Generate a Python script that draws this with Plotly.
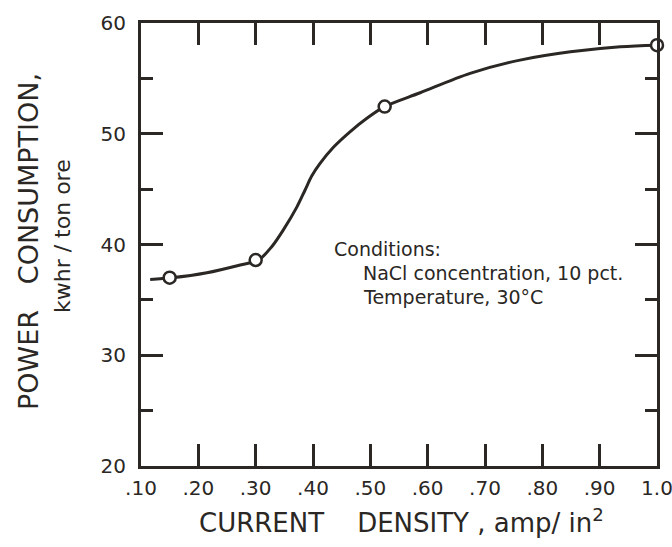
import plotly.graph_objects as go

# Measured data points
x_pts = [0.15, 0.30, 0.525, 1.0]
y_pts = [37.0, 38.6, 52.45, 58.0]

# Smooth curve
x_curve = [0.116, 0.154, 0.215, 0.273, 0.305, 0.328, 0.348, 0.372, 0.386, 0.398, 0.412, 0.436, 0.465, 0.494, 0.525, 0.587, 0.674, 0.761, 0.849, 0.936, 1.0]
y_curve = [36.85, 37.0, 37.45, 38.15, 38.6, 39.8, 41.3, 43.4, 44.9, 46.2, 47.3, 48.8, 50.2, 51.4, 52.45, 53.7, 55.45, 56.65, 57.4, 57.86, 58.0]

x_tickvals = [0.1, 0.2, 0.3, 0.4, 0.5, 0.6, 0.7, 0.8, 0.9, 1.0]
x_ticktext = [".10", ".20", ".30", ".40", ".50", ".60", ".70", ".80", ".90", "1.0"]
y_tickvals = [20, 30, 40, 50, 60]
y_ticktext = ["20", "30", "40", "50", "60"]

ink = "#2a2724"
font = "DejaVu Sans"

fig = go.Figure()
fig.add_trace(go.Scatter(x=x_curve, y=y_curve, mode="lines",
                         line=dict(color=ink, width=3, shape="spline", smoothing=0.9),
                         hoverinfo="skip", cliponaxis=False))
fig.add_trace(go.Scatter(x=x_pts, y=y_pts, mode="markers",
                         marker=dict(symbol="circle", size=12, color="white",
                                     line=dict(color=ink, width=2.5)),
                         cliponaxis=False))

fig.update_layout(
    width=672, height=547,
    margin=dict(l=141, r=15, t=23, b=81, autoexpand=False),
    paper_bgcolor="white", plot_bgcolor="white",
    showlegend=False,
    font=dict(family=font, color=ink),
)
fig.update_xaxes(range=[0.1, 1.0], tickvals=x_tickvals, ticktext=x_ticktext,
                 showgrid=False, zeroline=False, automargin=False,
                 showline=True, linecolor=ink, linewidth=3, mirror="allticks",
                 ticks="inside", ticklen=22, tickwidth=2.5, tickcolor=ink,
                 ticklabeloverflow="allow",
                 tickfont=dict(size=20, family=font, color=ink), ticklabelstandoff=2)
fig.update_yaxes(range=[20, 60], tickvals=y_tickvals, ticktext=y_ticktext,
                 showgrid=False, zeroline=False, automargin=False,
                 showline=True, linecolor=ink, linewidth=3, mirror="allticks",
                 ticks="inside", ticklen=22, tickwidth=2.5, tickcolor=ink,
                 minor=dict(dtick=5, tick0=20, ticks="inside", ticklen=12, tickwidth=2.5,
                            tickcolor=ink, showgrid=False),
                 tickfont=dict(size=20, family=font, color=ink), ticklabelstandoff=8)

fig.add_annotation(xref="paper", yref="paper", x=(401 - 141) / 516, y=(547 - 521 - 81) / 443,
                   text="CURRENT    DENSITY , amp/ in<sup>2</sup>", showarrow=False,
                   font=dict(size=26, family=font, color=ink), xanchor="center", yanchor="middle")
fig.add_annotation(xref="paper", yref="paper", x=(28 - 141) / 516, y=(547 - 242 - 81) / 443,
                   text="POWER   CONSUMPTION,", textangle=-90, showarrow=False,
                   font=dict(size=27, family=font, color=ink), xanchor="center", yanchor="middle")
fig.add_annotation(xref="paper", yref="paper", x=(63 - 141) / 516, y=(547 - 236 - 81) / 443,
                   text="kwhr / ton ore", textangle=-90, showarrow=False,
                   font=dict(size=22, family=font, color=ink), xanchor="center", yanchor="middle")

notes = [("Conditions:", 332, 249), ("NaCl concentration, 10 pct.", 361, 273), ("Temperature, 30°C", 361, 297)]
for txt, px, py in notes:
    fig.add_annotation(xref="paper", yref="paper", x=(px - 141) / 516, y=(547 - py - 81) / 443,
                       text=txt, showarrow=False, font=dict(size=19, family=font, color=ink),
                       xanchor="left", yanchor="middle")

fig.write_html("out.html")
